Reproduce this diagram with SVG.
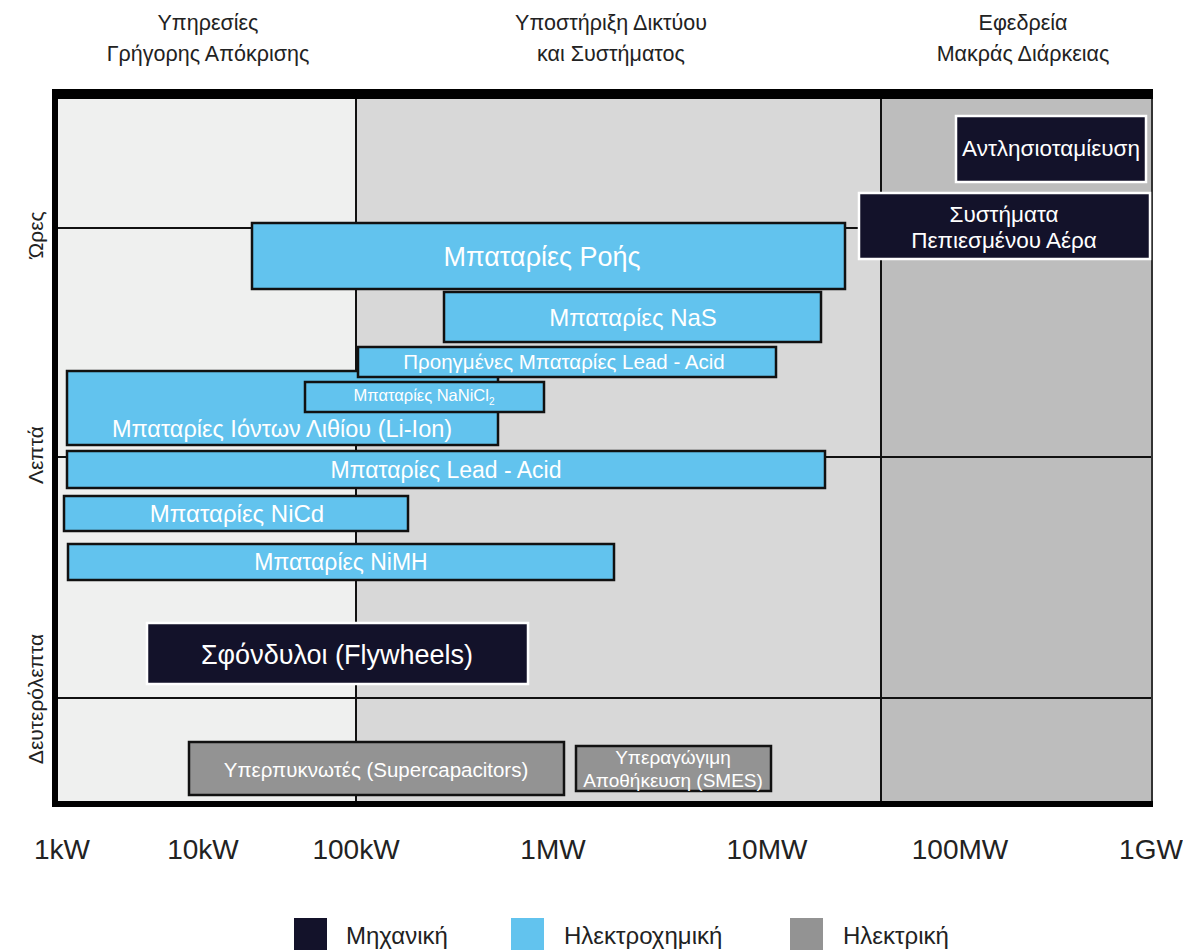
<svg xmlns="http://www.w3.org/2000/svg" width="1183" height="950" viewBox="0 0 1183 950">
<style>
text{font-family:"Liberation Sans","DejaVu Sans",sans-serif;}
.hdr{font-size:21.5px;fill:#222;text-anchor:middle;}
.ax{font-size:28px;fill:#222;text-anchor:middle;}
.yl{font-size:21px;fill:#222;text-anchor:middle;}
.lg{font-size:24px;fill:#222;}
.blue{fill:#62c3ee;stroke:#111;stroke-width:2.5;}
.dark{fill:#13122a;stroke:#fff;stroke-width:2.5;}
.gray{fill:#939393;stroke:#111;stroke-width:2.5;}
.t{fill:#fff;text-anchor:middle;}
.grid{stroke:#111;stroke-width:2;}
</style>
<rect x="0" y="0" width="1183" height="950" fill="#fff"/>
<g id="headers">
<text class="hdr" x="208" y="30">Υπηρεσίες</text>
<text class="hdr" x="208" y="61">Γρήγορης Απόκρισης</text>
<text class="hdr" x="611" y="30">Υποστήριξη Δικτύου</text>
<text class="hdr" x="611" y="61">και Συστήματος</text>
<text class="hdr" x="1023" y="30">Εφεδρεία</text>
<text class="hdr" x="1023" y="61">Μακράς Διάρκειας</text>
</g>
<g id="chart-bg">
<rect x="58" y="98" width="298" height="703" fill="#eff0ef"/>
<rect x="356" y="98" width="525" height="703" fill="#d8d8d8"/>
<rect x="881" y="98" width="271" height="703" fill="#bdbdbd"/>
</g>
<g id="grid">
<line class="grid" x1="58" y1="228" x2="1152" y2="228"/>
<line class="grid" x1="58" y1="457" x2="1152" y2="457"/>
<line class="grid" x1="58" y1="698" x2="1152" y2="698"/>
<line class="grid" x1="356" y1="98" x2="356" y2="801"/>
<line class="grid" x1="881" y1="98" x2="881" y2="801"/>
<line x1="1152" y1="98" x2="1152" y2="806" stroke="#333" stroke-width="2"/>
<rect x="52" y="89" width="1101" height="10" fill="#000"/>
<rect x="52" y="89" width="6" height="718" fill="#000"/>
<rect x="52" y="801" width="1101" height="6" fill="#000"/>
</g>
<g id="y-axis">
<text class="yl" transform="translate(43,235) rotate(-90)">Ώρες</text>
<text class="yl" transform="translate(43,455) rotate(-90)">Λεπτά</text>
<text class="yl" transform="translate(43,699) rotate(-90)">Δευτερόλεπτα</text>
</g>
<g id="x-axis">
<text class="ax" x="62" y="859">1kW</text>
<text class="ax" x="203" y="859">10kW</text>
<text class="ax" x="356" y="859">100kW</text>
<text class="ax" x="553" y="859">1MW</text>
<text class="ax" x="767" y="859">10MW</text>
<text class="ax" x="960" y="859">100MW</text>
<text class="ax" x="1151" y="859">1GW</text>
</g>
<g id="pumped-hydro">
<rect class="dark" x="956" y="116" width="190" height="66"/>
<text class="t" x="1051" y="156" font-size="22.5">Αντλησιοταμίευση</text>
</g>
<g id="caes">
<rect class="dark" x="859" y="193" width="291" height="66"/>
<text class="t" x="1004" y="222" font-size="22.5">Συστήματα</text>
<text class="t" x="1004" y="248" font-size="22.5">Πεπιεσμένου Αέρα</text>
</g>
<g id="flow">
<rect class="blue" x="252" y="223" width="593" height="66"/>
<text class="t" x="542" y="266" font-size="27">Μπαταρίες Ροής</text>
</g>
<g id="nas">
<rect class="blue" x="444" y="292" width="377" height="50"/>
<text class="t" x="633" y="326" font-size="24">Μπαταρίες NaS</text>
</g>
<g id="li-ion">
<rect class="blue" x="67" y="371" width="431" height="74"/>
<text class="t" x="282" y="437" font-size="23.5">Μπαταρίες Ιόντων Λιθίου (Li-Ion)</text>
</g>
<g id="adv-lead-acid">
<rect class="blue" x="358" y="347" width="418" height="30"/>
<text class="t" x="564" y="369" font-size="20.5">Προηγμένες Μπαταρίες Lead - Acid</text>
</g>
<g id="nanicl2">
<rect class="blue" x="305" y="382" width="239" height="30"/>
<text class="t" x="424" y="401" font-size="16.5">Μπαταρίες NaNiCl<tspan font-size="10" dy="4">2</tspan></text>
</g>
<g id="lead-acid">
<rect class="blue" x="67" y="451" width="758" height="37"/>
<text class="t" x="446" y="478" font-size="23">Μπαταρίες Lead - Acid</text>
</g>
<g id="nicd">
<rect class="blue" x="64" y="496" width="344" height="35"/>
<text class="t" x="237" y="522" font-size="24">Μπαταρίες NiCd</text>
</g>
<g id="nimh">
<rect class="blue" x="68" y="544" width="546" height="36"/>
<text class="t" x="341" y="570" font-size="23">Μπαταρίες NiMH</text>
</g>
<g id="flywheels">
<rect class="dark" x="147" y="623" width="381" height="61"/>
<text class="t" x="337" y="664" font-size="27">Σφόνδυλοι (Flywheels)</text>
</g>
<g id="supercaps">
<rect class="gray" x="189" y="742" width="375" height="53"/>
<text class="t" x="376" y="777" font-size="20.5">Υπερπυκνωτές (Supercapacitors)</text>
</g>
<g id="smes">
<rect class="gray" x="576" y="746" width="195" height="45"/>
<text class="t" x="673" y="764" font-size="19">Υπεραγώγιμη</text>
<text class="t" x="673" y="787" font-size="19">Αποθήκευση (SMES)</text>
</g>
<g id="legend">
<rect x="294" y="918" width="33" height="32" fill="#13122a"/>
<text class="lg" x="346" y="944">Μηχανική</text>
<rect x="511" y="918" width="33" height="32" fill="#62c3ee"/>
<text class="lg" x="564" y="944">Ηλεκτροχημική</text>
<rect x="790" y="918" width="33" height="32" fill="#939393"/>
<text class="lg" x="843" y="944">Ηλεκτρική</text>
</g>
</svg>
